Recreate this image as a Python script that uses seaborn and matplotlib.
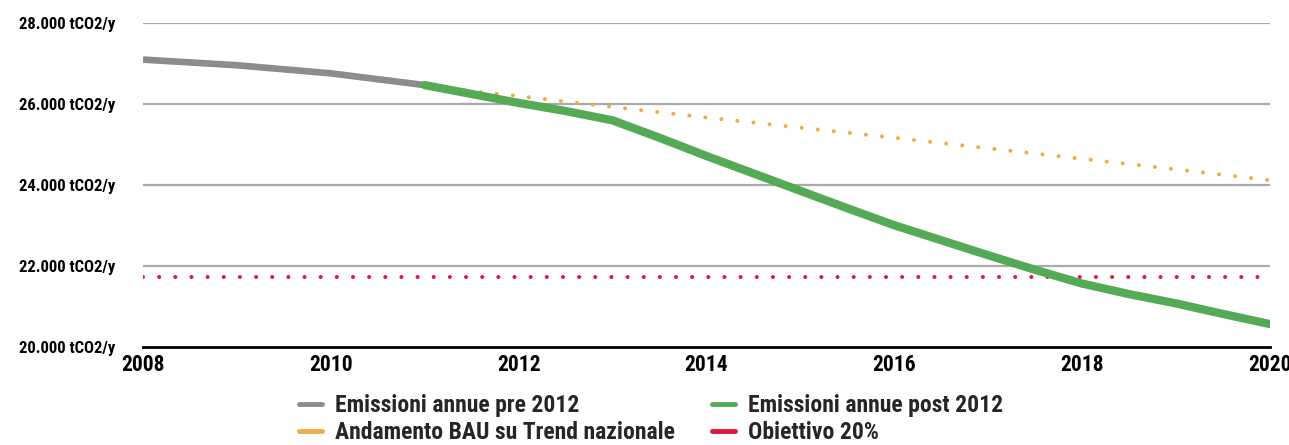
import matplotlib
matplotlib.use("Agg")
import matplotlib.pyplot as plt
from matplotlib import font_manager
from matplotlib.lines import Line2D
import seaborn as sns
import pandas as pd

# Annual emissions (tCO2/y)
years_pre = [2008, 2009, 2010, 2011]
emissions_pre = [27100, 26960, 26760, 26470]

years_post = [2011, 2011.5, 2012, 2012.5, 2013, 2013.5, 2014, 2014.5, 2015, 2015.5,
              2016, 2016.5, 2017, 2017.5, 2018, 2018.5, 2019, 2019.5, 2020]
emissions_post = [26470, 26250, 26030, 25830, 25600, 25170, 24720, 24290, 23860, 23430,
                  23010, 22640, 22270, 21910, 21570, 21310, 21080, 20820, 20570]

years_bau = [2008, 2009, 2010, 2011, 2012, 2013, 2014, 2015, 2016, 2017, 2018, 2019, 2020]
emissions_bau = [27100, 26940, 26740, 26450, 26200, 25930, 25670, 25420, 25170, 24910, 24650, 24390, 24120]

target_value = 21728
target_years = [2008, 2020]

y_ticks = [20000, 22000, 24000, 26000, 28000]
y_tick_labels = ["20.000 tCO2/y", "22.000 tCO2/y", "24.000 tCO2/y", "26.000 tCO2/y", "28.000 tCO2/y"]
x_ticks = [2008, 2010, 2012, 2014, 2016, 2018, 2020]

labels = ["Emissioni annue pre 2012", "Emissioni annue post 2012",
          "Andamento BAU su Trend nazionale", "Obiettivo 20%"]
GRAY, GREEN, ORANGE, RED = "#8c8c8c", "#55aa55", "#f0ac45", "#e0163c"

sns.set_theme(style="white")
installed = {f.name for f in font_manager.fontManager.ttflist}
family = next((f for f in ["Roboto Condensed", "Liberation Sans Narrow", "Open Sans Condensed",
                           "Roboto", "Liberation Sans"] if f in installed), "DejaVu Sans")
plt.rcParams["font.family"] = [family, "DejaVu Sans"]
plt.rcParams["font.weight"] = "bold"

fig = plt.figure(figsize=(12.89, 4.45), dpi=100)
ax = fig.add_axes([0.111, 0.22, 0.874, 0.728])

df_pre = pd.DataFrame({"year": years_pre, "value": emissions_pre})
df_post = pd.DataFrame({"year": years_post, "value": emissions_post})
df_bau = pd.DataFrame({"year": years_bau, "value": emissions_bau})
df_target = pd.DataFrame({"year": target_years, "value": [target_value] * len(target_years)})

dot = (0, (0.01, 4.0))
sns.lineplot(data=df_bau, x="year", y="value", ax=ax, color=ORANGE, lw=2.9,
             linestyle=dot, dash_capstyle="round", zorder=3)
sns.lineplot(data=df_target, x="year", y="value", ax=ax, color=RED, lw=2.9,
             linestyle=dot, dash_capstyle="round", zorder=3)
sns.lineplot(data=df_pre, x="year", y="value", ax=ax, color=GRAY, lw=4.8,
             solid_capstyle="butt", solid_joinstyle="round", zorder=4)
sns.lineplot(data=df_post, x="year", y="value", ax=ax, color=GREEN, lw=6.0,
             solid_capstyle="round", solid_joinstyle="round", zorder=5)

ax.set_xlim(2008, 2020)
ax.set_ylim(20000, 28000)
ax.set_yticks(y_ticks)
ax.set_yticklabels(y_tick_labels)
ax.set_xticks(x_ticks)
ax.set_xticklabels([str(x) for x in x_ticks])
ax.set_xlabel("")
ax.set_ylabel("")

for y in y_ticks[1:]:
    ax.axhline(y, color="#aaaaaa", lw=1.6, zorder=1)

for s in ["top", "right", "left"]:
    ax.spines[s].set_visible(False)
ax.spines["bottom"].set_color("black")
ax.spines["bottom"].set_linewidth(2)
ax.spines["bottom"].set_zorder(6)

ax.tick_params(axis="y", length=0, pad=20, labelsize=12, labelcolor="black")
ax.tick_params(axis="x", length=0, pad=5, labelsize=15.5, labelcolor="black")
for t in ax.get_yticklabels() + ax.get_xticklabels():
    t.set_fontweight("bold")

handles = [Line2D([], [], color=GRAY, lw=3.5),
           Line2D([], [], color=GREEN, lw=3.5),
           Line2D([], [], color=ORANGE, lw=3.5),
           Line2D([], [], color=RED, lw=3.5)]
order = [0, 2, 1, 3]
fig.legend([handles[i] for i in order], [labels[i] for i in order],
           loc="upper left", bbox_to_anchor=(299 / 1289, 1 - 394 / 445), ncol=2, frameon=False,
           borderpad=0, borderaxespad=0,
           prop={"size": 17, "weight": "bold"}, handlelength=0.98, handletextpad=0.55,
           columnspacing=1.55, labelspacing=0.18)

fig.savefig("out.png", dpi=100)
